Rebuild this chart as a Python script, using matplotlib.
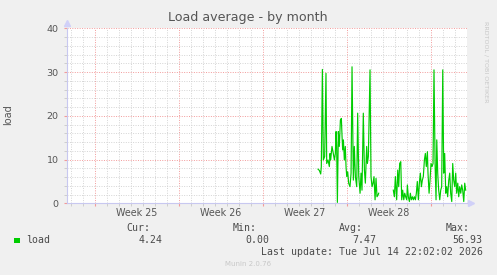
import numpy as np
import matplotlib
matplotlib.use("Agg")
from matplotlib import pyplot as plt
from matplotlib import transforms

# x values are days since the left edge of the graph
days_a = [20.92, 21.03, 21.14, 21.19, 21.28, 21.36, 21.47, 21.58, 21.64, 21.75,
          21.86, 21.92, 21.97, 22.08, 22.19, 22.28, 22.36, 22.42, 22.47, 22.53,
          22.61, 22.69, 22.78, 22.86, 22.92, 22.97, 23.03, 23.11, 23.19, 23.25,
          23.31, 23.39, 23.47, 23.58, 23.67, 23.75, 23.86, 23.94, 24.03, 24.14,
          24.22, 24.31, 24.42, 24.50, 24.58, 24.69, 24.78, 24.86, 24.97, 25.03,
          25.11, 25.25, 25.33, 25.42, 25.50, 25.58, 25.67, 25.75, 25.83, 25.92,
          25.97]
load_a = [7.8, 7.5, 6.7, 8.4, 30.6, 9.9, 10.7, 29.7, 9.1, 9.9,
          8.4, 11.4, 9.9, 13.0, 11.4, 9.9, 11.4, 16.4, 13.0, 0.2,
          16.4, 13.0, 19.0, 19.4, 15.2, 12.2, 14.5, 9.9, 13.0, 8.4,
          6.1, 7.2, 4.6, 3.8, 6.9, 31.2, 5.3, 13.0, 6.1, 3.8,
          20.6, 6.1, 2.3, 6.9, 3.0, 20.6, 7.6, 4.6, 13.0, 9.1,
          10.7, 30.5, 6.1, 3.8, 4.6, 6.1, 0.8, 5.7, 1.5, 1.9,
          2.3]
days_b = [27.19, 27.28, 27.36, 27.47, 27.56, 27.64, 27.72, 27.81, 27.89, 27.97,
          28.06, 28.14, 28.22, 28.31, 28.36, 28.44, 28.53, 28.61, 28.69, 28.78,
          28.86, 28.94, 29.03, 29.11, 29.19, 29.28, 29.36, 29.44, 29.53, 29.61,
          29.69, 29.78, 29.86, 29.94, 30.03, 30.08, 30.17, 30.25, 30.33, 30.42,
          30.50, 30.58, 30.67, 30.75, 30.81, 30.89, 30.97, 31.06, 31.14, 31.22,
          31.31, 31.39, 31.47, 31.56, 31.64, 31.72, 31.81, 31.89, 31.97, 32.06,
          32.14, 32.22, 32.31, 32.39, 32.47, 32.56, 32.64, 32.72, 32.81, 32.89,
          32.97, 33.06, 33.14, 33.22]
load_b = [3.0, 1.5, 6.1, 0.8, 7.6, 3.8, 9.1, 9.5, 0.8, 3.0,
          0.8, 2.3, 1.5, 0.8, 4.2, 1.5, 0.4, 2.3, 0.8, 1.5,
          0.8, 1.5, 0.8, 2.3, 5.0, 0.8, 4.6, 6.9, 3.8, 5.3,
          6.1, 9.9, 11.4, 8.4, 11.8, 6.9, 2.3, 5.3, 9.1, 8.4,
          9.1, 30.5, 9.1, 0.8, 14.5, 6.9, 3.0, 0.8, 3.0, 3.8,
          30.5, 6.9, 11.4, 2.3, 3.8, 1.5, 5.3, 6.9, 2.3, 0.4,
          9.1, 5.3, 3.8, 6.9, 2.3, 4.6, 1.5, 3.8, 2.3, 4.2,
          3.0, 0.4, 4.6, 3.0]

week_labels = ["Week 25", "Week 26", "Week 27", "Week 28"]
week_starts = [2.33, 9.33, 16.33, 23.33, 30.33]
stat_names = ["Cur:", "Min:", "Avg:", "Max:"]
stat_values = ["4.24", "0.00", "7.47", "56.93"]

W, H = 497, 275
fig = plt.figure(figsize=(W / 100, H / 100), dpi=100, facecolor="#f0f0f0")

def px(x, y):
    return x / W, 1 - y / H

x0, y0 = px(67, 203.3)
x1, y1 = px(467, 28.3)
ax = fig.add_axes([x0, y0, x1 - x0, y1 - y0], facecolor="white")
ax.set_xlim(0, 33.33)
ax.set_ylim(0, 40)

dot = (0, (1, 1.5))
ax.set_xticks(week_starts)
ax.set_xticks(np.arange(0.33, 33.3, 1.0), minor=True)
ax.set_yticks(range(0, 41, 10))
ax.set_yticks(range(0, 41, 2), minor=True)
ax.grid(which="minor", color="#d4d4d4", linestyle=dot, linewidth=0.7)
ax.grid(which="major", color="#f29a9a", linestyle=dot, linewidth=0.7)
ax.set_axisbelow(True)

ax.tick_params(axis="x", which="major", length=2, color="#f29a9a", labelbottom=False)
ax.tick_params(axis="x", which="minor", length=2, color="#c8c8c8")
ax.tick_params(axis="y", which="major", length=2, color="#f29a9a",
               labelsize=6.8, labelcolor="#555555", pad=4)
ax.tick_params(axis="y", which="minor", length=2, color="#c8c8c8")

for s in ["top", "right"]:
    ax.spines[s].set_visible(False)
for s in ["left", "bottom"]:
    ax.spines[s].set_color("#c8c8f0")
    ax.spines[s].set_linewidth(0.8)

# axis arrows
ax.plot([1.0, 1.008], [0, 0], color="#c8c8f0", lw=0.8, transform=ax.transAxes, clip_on=False)
ax.plot([1.01], [0], marker=">", ms=5, color="#d0d0f8", transform=ax.transAxes, clip_on=False)
ax.plot([0], [1.03], marker="^", ms=5, color="#d0d0f8", transform=ax.transAxes, clip_on=False)

ax.plot(days_a, load_a, color="#00cc00", lw=0.85)
ax.plot(days_b, load_b, color="#00cc00", lw=0.85)

trans = transforms.blended_transform_factory(ax.transData, ax.transAxes)
for i, lab in enumerate(week_labels):
    mid = (week_starts[i] + week_starts[i + 1]) / 2
    ax.text(mid, -0.055, lab, transform=trans, ha="center", va="center",
            fontsize=6.9, color="#555555")

fig.text(*px(248, 18), "Load average - by month", ha="center", va="center",
         fontsize=9.1, color="#555555")
fig.text(*px(8, 115), "load", rotation=90, ha="center", va="center",
         fontsize=7, color="#555555")
fig.text(*px(486, 62), "RRDTOOL / TOBI OETIKER", rotation=270, ha="center", va="center",
         fontsize=4.6, color="#c8c8c8")

mono = "DejaVu Sans Mono"
legend_y = 240
fig.patches.append(plt.Rectangle(px(14, 242.5), 6 / W, 5 / H, transform=fig.transFigure,
                                 facecolor="#00cc00", edgecolor="none"))
fig.text(*px(26, legend_y), "load", family=mono, fontsize=7.1, color="#4a4a4a", va="center")
head_x = [150.5, 256.7, 363.3, 470]
val_x = [162.7, 269.3, 376, 482.7]
for name, hx in zip(stat_names, head_x):
    fig.text(*px(hx, 228), name, family=mono, fontsize=7.1, color="#4a4a4a",
             ha="right", va="center")
for v, vx in zip(stat_values, val_x):
    fig.text(*px(vx, legend_y), v, family=mono, fontsize=7.1, color="#4a4a4a",
             ha="right", va="center")
fig.text(*px(482.7, 252), "Last update: Tue Jul 14 22:02:02 2026", family=mono,
         fontsize=7.1, color="#4a4a4a", ha="right", va="center")
fig.text(*px(248, 264), "Munin 2.0.76", ha="center", va="center",
         fontsize=5, color="#c8c8c8")

fig.savefig("out.png", dpi=100, facecolor=fig.get_facecolor())
